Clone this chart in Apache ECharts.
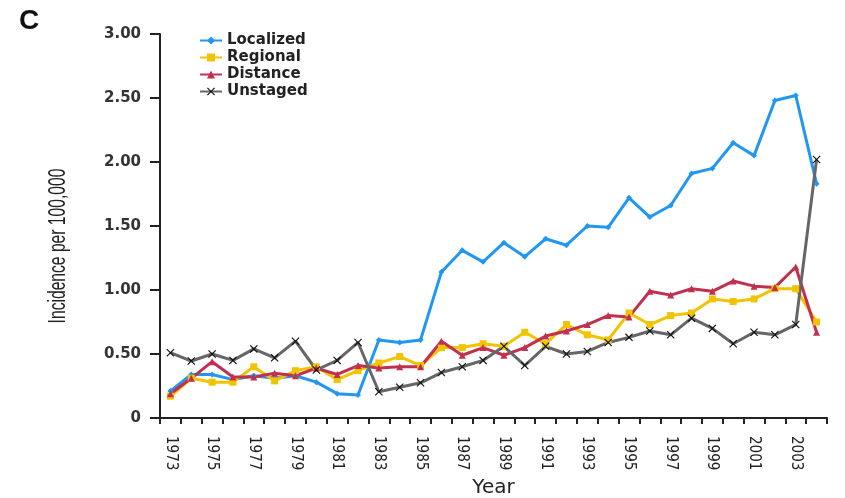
<!DOCTYPE html>
<html>
<head>
<meta charset="utf-8">
<style>
  html, body { margin: 0; padding: 0; background: #fff; }
  #chart { width: 845px; height: 498px; }
</style>
<script src="https://cdn.jsdelivr.net/npm/echarts@6/dist/echarts.min.js"></script>
</head>
<body>
<div id="chart"></div>
<script>
// years 1973..2004
const years = [];
for (let y = 1973; y <= 2004; y++) years.push(String(y));

const localized = [0.21, 0.34, 0.34, 0.30, 0.33, 0.31, 0.33, 0.28, 0.19, 0.18, 0.61, 0.59, 0.61, 1.14, 1.31, 1.22,
  1.37, 1.26, 1.40, 1.35, 1.50, 1.49, 1.72, 1.57, 1.66, 1.91, 1.95, 2.15, 2.05, 2.48, 2.52, 1.83];
const regional = [0.17, 0.31, 0.28, 0.28, 0.40, 0.29, 0.37, 0.40, 0.30, 0.37, 0.43, 0.48, 0.41, 0.55, 0.55, 0.58,
  0.56, 0.67, 0.58, 0.73, 0.65, 0.61, 0.82, 0.73, 0.80, 0.82, 0.93, 0.91, 0.93, 1.01, 1.01, 0.75];
const distance = [0.19, 0.31, 0.44, 0.32, 0.32, 0.35, 0.33, 0.39, 0.34, 0.41, 0.39, 0.40, 0.40, 0.60, 0.49, 0.55,
  0.49, 0.55, 0.64, 0.68, 0.73, 0.80, 0.79, 0.99, 0.96, 1.01, 0.99, 1.07, 1.03, 1.02, 1.18, 0.67];
const unstaged = [0.51, 0.445, 0.50, 0.45, 0.54, 0.47, 0.60, 0.375, 0.45, 0.59, 0.205, 0.24, 0.275, 0.355, 0.40, 0.45,
  0.56, 0.41, 0.56, 0.50, 0.52, 0.59, 0.63, 0.68, 0.65, 0.78, 0.70, 0.58, 0.67, 0.65, 0.73, 2.02];

const crossPath = 'path://M0,1 L1,0 L5,4 L9,0 L10,1 L6,5 L10,9 L9,10 L5,6 L1,10 L0,9 L4,5 Z';
const condensed = '"DejaVu Sans Condensed", "Liberation Sans Narrow", sans-serif';

function lineSeries(name, data, color, symbol, size, markerColor) {
  return {
    name: name,
    type: 'line',
    data: data,
    symbol: symbol,
    symbolSize: size,
    showAllSymbol: true,
    lineStyle: { color: color, width: 3 },
    itemStyle: { color: markerColor || color },
    emphasis: { disabled: true }
  };
}

const myChart = echarts.init(document.getElementById('chart'));

myChart.setOption({
  animation: false,
  title: {
    text: 'C',
    left: 14,
    top: 2,
    textStyle: { fontFamily: 'Liberation Sans', fontWeight: 'bold', fontSize: 28, color: '#111' }
  },
  // y axis title drawn squeezed, like the narrow face in the original
  graphic: [{
    type: 'text',
    x: 59,
    y: 246,
    rotation: Math.PI / 2,
    scaleX: 0.68,
    style: {
      text: 'Incidence per 100,000',
      font: '23px "Liberation Sans", sans-serif',
      fill: '#222',
      align: 'center',
      verticalAlign: 'middle'
    }
  }],
  legend: {
    orient: 'vertical',
    left: 194,
    top: 28,
    itemGap: 2,
    itemWidth: 22,
    itemHeight: 10,
    textStyle: { fontFamily: 'DejaVu Sans', fontWeight: 'bold', fontSize: 15, color: '#222' },
    data: ['Localized', 'Regional', 'Distance', 'Unstaged']
  },
  grid: { left: 160, right: 18, top: 34, bottom: 80, containLabel: false, outerBoundsMode: 'none' },
  xAxis: {
    type: 'category',
    data: years,
    boundaryGap: true,
    name: 'Year',
    nameLocation: 'middle',
    nameGap: 57,
    nameTextStyle: { fontFamily: 'DejaVu Sans', fontSize: 20, color: '#222' },
    axisLine: { lineStyle: { color: '#222', width: 2 } },
    axisTick: { show: true, interval: 0, length: 6, lineStyle: { color: '#222', width: 2 } },
    axisLabel: {
      interval: 1,
      rotate: -90,
      margin: 18,
      fontFamily: condensed,
      fontSize: 15,
      color: '#222'
    }
  },
  yAxis: {
    type: 'value',
    min: 0,
    max: 3,
    interval: 0.5,
    splitLine: { show: false },
    axisLine: { show: true, lineStyle: { color: '#222', width: 2 } },
    axisTick: { show: true, length: 10, lineStyle: { color: '#222', width: 2 } },
    axisLabel: {
      margin: 19,
      fontFamily: 'DejaVu Sans',
      fontWeight: 'bold',
      fontSize: 15,
      color: '#333',
      formatter: function (v) { return v === 0 ? '0' : v.toFixed(2); }
    }
  },
  series: [
    lineSeries('Localized', localized, '#2196f3', 'diamond', 6),
    lineSeries('Regional', regional, '#f2c300', 'rect', 7),
    lineSeries('Distance', distance, '#c2304f', 'triangle', 7),
    lineSeries('Unstaged', unstaged, '#666666', crossPath, 8, '#111111')
  ]
});

window.addEventListener('resize', myChart.resize);
</script>
</body>
</html>
